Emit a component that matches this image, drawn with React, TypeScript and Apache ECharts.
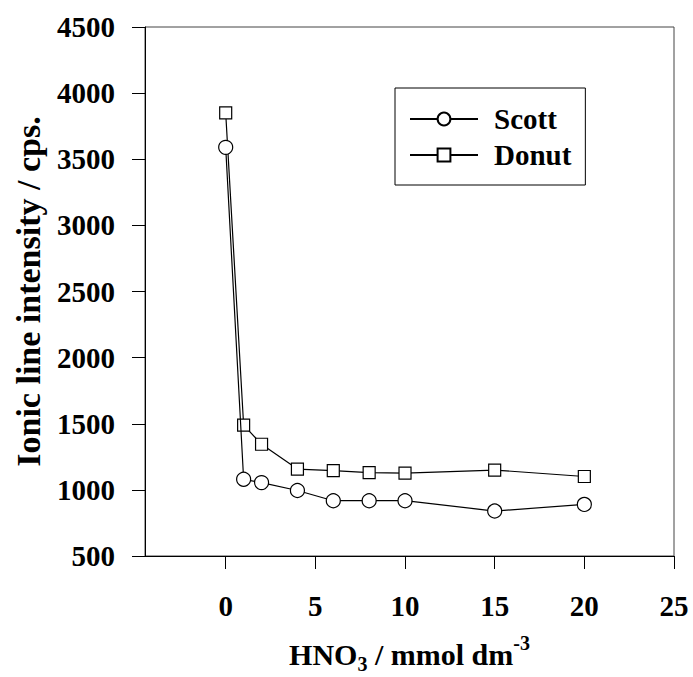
import React, { useEffect, useRef } from "react";
import * as echarts from "echarts";

const xValues = [0, 1, 2, 4, 6, 8, 10, 15, 20];
const scottValues = [3590, 1080, 1055, 995, 918, 918, 918, 840, 890];
const donutValues = [3850, 1490, 1345, 1157, 1146, 1131, 1127, 1150, 1101];
const xTicks = [0, 5, 10, 15, 20, 25];
const seriesNames = ["Scott", "Donut"];

const FONT = "'Liberation Serif', 'Times New Roman', serif";

export default function App() {
  const ref = useRef<HTMLDivElement>(null);
  useEffect(() => {
    if (!ref.current) return;
    const chart = echarts.init(ref.current, null, { renderer: "svg" });
    const toPairs = (vals: number[]) => xValues.map((x, i) => [x, vals[i]]);
    const markerStyle = { color: "#fff", borderColor: "#000", borderWidth: 1.2 };
    chart.setOption({
      animation: false,
      backgroundColor: "#fff",
      grid: {
        left: 145,
        right: 19,
        top: 27,
        bottom: 121,
        containLabel: false,
        outerBoundsMode: "none",
        show: true,
        borderColor: "#444",
        borderWidth: 1,
        backgroundColor: "transparent",
      },
      legend: {
        orient: "vertical",
        left: 395,
        top: 88,
        padding: [16, 14, 15, 14],
        itemGap: 6,
        itemWidth: 68,
        itemHeight: 16,
        borderColor: "#000",
        borderWidth: 1,
        data: seriesNames,
        textStyle: {
          fontFamily: FONT,
          fontWeight: "bold",
          fontSize: 29,
          color: "#000",
          lineHeight: 30,
          padding: [0, 0, 0, 11],
        },
      },
      xAxis: {
        type: "value",
        min: -4.5,
        max: 25,
        splitLine: { show: false },
        axisLine: { onZero: false, lineStyle: { color: "#000", width: 1 } },
        axisTick: {
          show: true,
          inside: false,
          length: 13,
          customValues: xTicks,
          lineStyle: { color: "#000", width: 1 },
        },
        axisLabel: {
          customValues: xTicks,
          margin: 35,
          fontFamily: FONT,
          fontWeight: "bold",
          fontSize: 29,
          color: "#000",
        },
        name: "{m|HNO}{sub|3}{m| / mmol dm}{sup|-3}",
        nameLocation: "middle",
        nameGap: 78,
        nameTextStyle: {
          rich: {
            m: { fontFamily: FONT, fontWeight: "bold", fontSize: 30, color: "#000", lineHeight: 40 },
            sub: {
              fontFamily: FONT,
              fontWeight: "bold",
              fontSize: 20,
              color: "#000",
              lineHeight: 20,
              padding: [20, 0, 0, 0],
            },
            sup: {
              fontFamily: FONT,
              fontWeight: "bold",
              fontSize: 20,
              color: "#000",
              lineHeight: 20,
              padding: [0, 0, 23, 0],
            },
          },
        },
      },
      yAxis: {
        type: "value",
        min: 500,
        max: 4500,
        interval: 500,
        splitLine: { show: false },
        axisLine: { show: true, onZero: false, lineStyle: { color: "#000", width: 1 } },
        axisTick: { show: true, inside: false, length: 13, lineStyle: { color: "#000", width: 1 } },
        axisLabel: {
          margin: 30,
          fontFamily: FONT,
          fontWeight: "bold",
          fontSize: 29,
          color: "#000",
          formatter: (v: number) => String(v),
        },
        name: "Ionic line intensity / cps.",
        nameLocation: "middle",
        nameRotate: 90,
        nameGap: 100,
        nameTextStyle: {
          fontFamily: FONT,
          fontWeight: "bold",
          fontSize: 34,
          color: "#000",
        },
      },
      series: [
        {
          name: seriesNames[0],
          type: "line",
          data: toPairs(scottValues),
          symbol: "circle",
          symbolSize: 14,
          showAllSymbol: true,
          lineStyle: { color: "#000", width: 1.2 },
          itemStyle: markerStyle,
          z: 3,
        },
        {
          name: seriesNames[1],
          type: "line",
          data: toPairs(donutValues),
          symbol: "rect",
          symbolSize: 12,
          showAllSymbol: true,
          lineStyle: { color: "#000", width: 1.2 },
          itemStyle: markerStyle,
          z: 2,
        },
      ],
    });
    return () => chart.dispose();
  }, []);
  return (
    <div
      ref={ref}
      style={{ position: "fixed", left: 0, top: 0, width: 693, height: 677, background: "#fff" }}
    />
  );
}
